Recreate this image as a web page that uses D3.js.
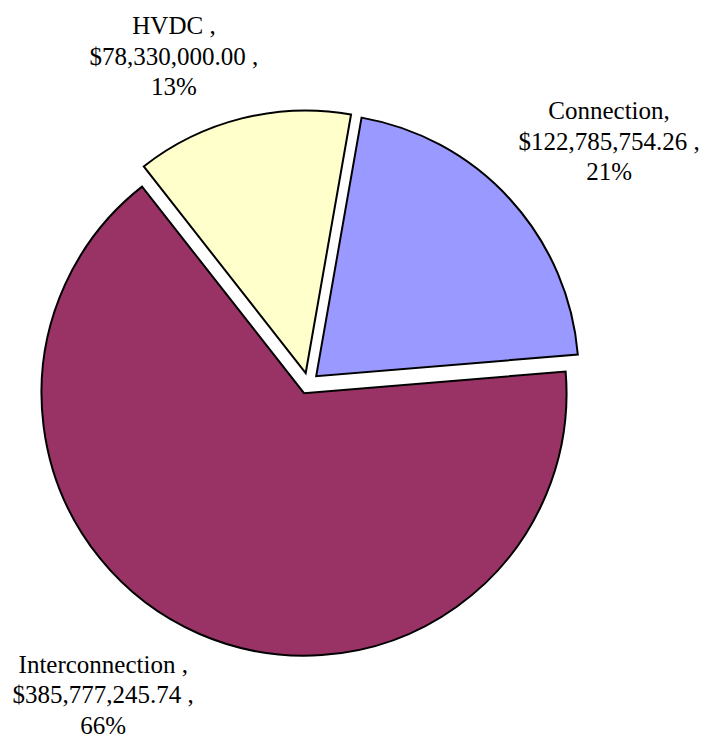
<!DOCTYPE html>
<html>
<head>
<meta charset="utf-8">
<script src="https://cdn.jsdelivr.net/npm/d3@7"></script>
<style>
  html, body { margin: 0; padding: 0; background: #fff; }
  svg { display: block; }
  text { font-family: "Liberation Serif", "Times New Roman", serif; fill: #000; }
</style>
</head>
<body>
<svg id="chart" width="702" height="739"></svg>
<script>
// Project cost breakdown
const categories = ["HVDC ", "Connection", "Interconnection "];
const costs = [78330000.00, 122785754.26, 385777245.74];
const colors = ["#FFFFCC", "#9999FF", "#993366"];

// Label placement around the pie: direction (degrees clockwise from 12 o'clock) and distance
const labelDir = [-22.35, 51.16, 213.33];
const labelDist = [353.2, 386.1, 373.2];

const W = 702, H = 739;
const cx = 308.3, cy = 383.4;
const radius = 262.5;
const explode = 10.7;
const startDeg = -38.1;
const fontSize = 25;
const lineH = 30.5;

const svg = d3.select("#chart");
const rad = d => d * Math.PI / 180;

const data = categories.map((c, i) => ({ name: c, value: costs[i], color: colors[i], idx: i }));
const total = d3.sum(costs);

const pie = d3.pie()
  .value(d => d.value)
  .sort(null)
  .startAngle(rad(startDeg))
  .endAngle(rad(startDeg + 360));

const arc = d3.arc().innerRadius(0).outerRadius(radius);

const arcs = pie(data);

const g = svg.append("g").attr("transform", `translate(${cx},${cy})`);

g.selectAll("path.slice")
  .data(arcs)
  .join("path")
  .attr("class", "slice")
  .attr("transform", d => {
    const m = (d.startAngle + d.endAngle) / 2;
    return `translate(${explode * Math.sin(m)},${-explode * Math.cos(m)})`;
  })
  .attr("d", arc)
  .attr("fill", d => d.data.color)
  .attr("stroke", "#000")
  .attr("stroke-width", 2)
  .attr("stroke-linejoin", "miter");

const money = d3.format("$,.2f");
const pct = d3.format(".0%");

const labels = svg.selectAll("text.lbl")
  .data(arcs)
  .join("text")
  .attr("class", "lbl")
  .attr("text-anchor", "middle")
  .attr("font-size", fontSize)
  .attr("transform", d => {
    const a = rad(labelDir[d.data.idx]);
    const r = labelDist[d.data.idx];
    return `translate(${cx + r * Math.sin(a)},${cy - r * Math.cos(a)})`;
  });

labels.each(function(d) {
  const lines = [
    d.data.name + ",",
    money(d.data.value) + " ,",
    pct(d.data.value / total)
  ];
  d3.select(this).selectAll("tspan")
    .data(lines)
    .join("tspan")
    .attr("x", 0)
    .attr("y", (t, i) => (i - 1) * lineH + fontSize * 0.33)
    .attr("xml:space", "preserve")
    .text(t => t);
});
</script>
</body>
</html>
